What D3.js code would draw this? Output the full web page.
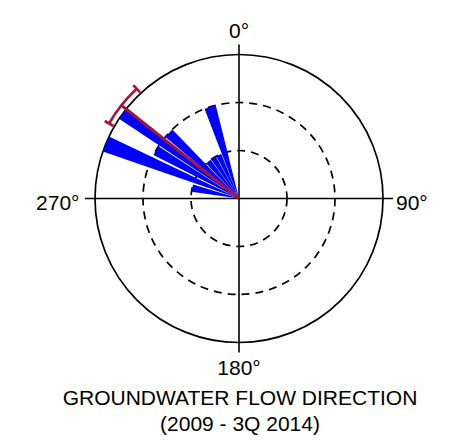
<!DOCTYPE html>
<html>
<head>
<meta charset="utf-8">
<script src="https://cdn.jsdelivr.net/npm/d3@7"></script>
<style>
  html, body { margin: 0; padding: 0; background: #fff; }
  svg { display: block; }
  text { font-family: "Liberation Sans", Arial, sans-serif; fill: #000; }
</style>
</head>
<body>
<div id="chart"></div>
<script>
// ---- data (compass degrees, clockwise from north) ----
const petalStart = [278, 289,   297, 303.6, 309.8, 316.8, 324.5, 331.7, 339];
const petalEnd   = [287, 295.5, 303, 309,   316,   323.8, 331,   338.3, 346];
const petalCount = [1,   3,     2,   3,     2,     1,     1,     1,     2];
const ringValues = [1, 2, 3];
const axisAngles = [0, 90, 180, 270];
const axisLabels = ["0°", "90°", "180°", "270°"];
const meanDirection = [308.4];
const meanInterval = [300, 317];
const titleLines = ["GROUNDWATER FLOW DIRECTION", "(2009 - 3Q 2014)"];

// ---- layout ----
const W = 458, H = 444;
const cx = 239, cy = 198.5;
const R = 144;

const svg = d3.select("#chart").append("svg")
  .attr("width", W).attr("height", H);

const g = svg.append("g").attr("transform", `translate(${cx},${cy})`);

const r = d3.scaleLinear().domain([0, 3]).range([0, R]);
const rad = d => d * Math.PI / 180;
const px = (deg, rr) => rr * Math.sin(rad(deg));
const py = (deg, rr) => -rr * Math.cos(rad(deg));

// axis lines
const axisExt = R + 10;
g.append("line").attr("x1", -axisExt).attr("x2", axisExt).attr("y1", 0).attr("y2", 0)
  .attr("stroke", "#000").attr("stroke-width", 1.6);
g.append("line").attr("y1", -axisExt).attr("y2", axisExt).attr("x1", 0).attr("x2", 0)
  .attr("stroke", "#000").attr("stroke-width", 1.6);

// rings
g.selectAll("circle.ring").data(ringValues).join("circle")
  .attr("class", "ring")
  .attr("r", d => r(d))
  .attr("fill", "none")
  .attr("stroke", "#000")
  .attr("stroke-width", 1.7)
  .attr("stroke-dasharray", d => d === 3 ? null : "8,6");

// petals
const petals = petalStart.map((s, i) => ({ s, e: petalEnd[i], c: petalCount[i] }));
const arc = d3.arc()
  .innerRadius(0)
  .outerRadius(d => r(d.c))
  .startAngle(d => rad(d.s))
  .endAngle(d => rad(d.e));
g.selectAll("path.petal").data(petals).join("path")
  .attr("class", "petal")
  .attr("d", arc)
  .attr("fill", "#0000ff");

// mean direction + interval
const red = "#a8143c";
const rErr = 150;
g.selectAll("line.mean").data(meanDirection).join("line")
  .attr("class", "mean")
  .attr("x1", 0).attr("y1", 0)
  .attr("x2", d => px(d, rErr)).attr("y2", d => py(d, rErr))
  .attr("stroke", red).attr("stroke-width", 3);

const errArc = d3.arc().innerRadius(rErr).outerRadius(rErr)
  .startAngle(rad(meanInterval[0])).endAngle(rad(meanInterval[1]));
g.append("path").attr("d", errArc()).attr("fill", "none")
  .attr("stroke", red).attr("stroke-width", 2.6);
g.selectAll("line.cap").data(meanInterval).join("line")
  .attr("class", "cap")
  .attr("x1", d => px(d, rErr - 5)).attr("y1", d => py(d, rErr - 5))
  .attr("x2", d => px(d, rErr + 5)).attr("y2", d => py(d, rErr + 5))
  .attr("stroke", red).attr("stroke-width", 2.6);

// axis labels
const fs = 21;
const labelPos = {
  0:   { x: 0, y: -161, anchor: "middle" },
  90:  { x: 157, y: 11.5, anchor: "start" },
  180: { x: 0, y: 176.5, anchor: "middle" },
  270: { x: -159.5, y: 11.5, anchor: "end" }
};
g.selectAll("text.axlab").data(axisAngles).join("text")
  .attr("class", "axlab")
  .attr("x", d => labelPos[d].x)
  .attr("y", d => labelPos[d].y)
  .attr("text-anchor", d => labelPos[d].anchor)
  .attr("font-size", fs)
  .text((d, i) => axisLabels[i]);

// title
svg.selectAll("text.title").data(titleLines).join("text")
  .attr("class", "title")
  .attr("x", 240)
  .attr("y", (d, i) => 405 + i * 25.5)
  .attr("text-anchor", "middle")
  .attr("font-size", fs)
  .text(d => d);
</script>
</body>
</html>
